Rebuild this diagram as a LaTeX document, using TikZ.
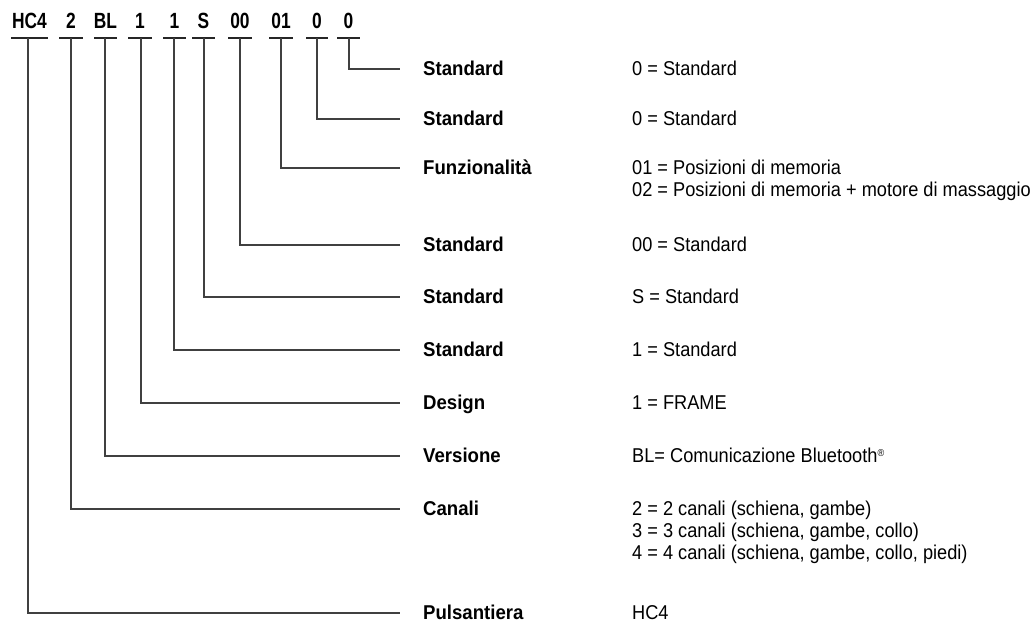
\documentclass[tikz,border=0pt]{standalone}
\usepackage{fontspec}
\setmainfont{Liberation Sans}
\newfontfamily\hdrfont[FakeStretch=0.79]{Liberation Sans}
\newfontfamily\labfont[FakeStretch=0.93]{Liberation Sans}
\newfontfamily\valfont[FakeStretch=0.91]{Liberation Sans}
\begin{document}
\begin{tikzpicture}[x=1pt,y=-1pt,
  bar/.style={line width=2.8pt, draw=black!85},
  conn/.style={line width=1.4pt, draw=black!75},
  hdr/.style={font=\hdrfont\bfseries\fontsize{22}{22}\selectfont, anchor=base, inner sep=0pt},
  lab/.style={font=\labfont\bfseries\fontsize{20}{22}\selectfont, anchor=base west, inner sep=0pt},
  val/.style={font=\valfont\fontsize{20}{22}\selectfont, anchor=base west, inner sep=0pt}]
\useasboundingbox (0,0) rectangle (1033,625);

% header codes
\node[hdr] (h1) at (29.5,28) {HC4};
\node[hdr] (h2) at (71,28) {2};
\node[hdr] (h3) at (105.5,28) {BL};
\node[hdr] (h4) at (140,28) {1};
\node[hdr] (h5) at (174.5,28) {1};
\node[hdr] (h6) at (203.5,28) {S};
\node[hdr] (h7) at (240,28) {00};
\node[hdr] (h8) at (281,28) {01};
\node[hdr] (h9) at (317,28) {0};
\node[hdr] (h10) at (348.5,28) {0};

% bars
\draw[bar] (11,38) -- (48,38);
\draw[bar] (59,38) -- (83,38);
\draw[bar] (94,38) -- (117,38);
\draw[bar] (128,38) -- (152,38);
\draw[bar] (163,38) -- (186,38);
\draw[bar] (192,38) -- (215,38);
\draw[bar] (228,38) -- (252,38);
\draw[bar] (269,38) -- (293,38);
\draw[bar] (306,38) -- (328,38);
\draw[bar] (337,38) -- (360,38);

% connector start points
\coordinate (s1) at (28,38);
\coordinate (s2) at (71,38);
\coordinate (s3) at (105,38);
\coordinate (s4) at (141,38);
\coordinate (s5) at (174,38);
\coordinate (s6) at (204,38);
\coordinate (s7) at (240,38);
\coordinate (s8) at (281,38);
\coordinate (s9) at (317,38);
\coordinate (s10) at (349,38);

% connector end points
\coordinate (e10) at (400,69);
\coordinate (e9) at (400,119);
\coordinate (e8) at (400,168);
\coordinate (e7) at (400,245);
\coordinate (e6) at (400,297);
\coordinate (e5) at (400,350);
\coordinate (e4) at (400,403);
\coordinate (e3) at (400,456);
\coordinate (e2) at (400,509);
\coordinate (e1) at (400,613);

\foreach \i in {1,...,10} { \draw[conn] (s\i) |- (e\i); }

% labels
\node[lab] (l10) at (423,75) {Standard};
\node[lab] (l9) at (423,125) {Standard};
\node[lab] (l8) at (423,174) {Funzionalità};
\node[lab] (l7) at (423,251) {Standard};
\node[lab] (l6) at (423,303) {Standard};
\node[lab] (l5) at (423,356) {Standard};
\node[lab] (l4) at (423,409) {Design};
\node[lab] (l3) at (423,462) {Versione};
\node[lab] (l2) at (423,515) {Canali};
\node[lab] (l1) at (423,619) {Pulsantiera};

% values
\node[val] (v10) at (632,75) {0 = Standard};
\node[val] (v9) at (632,125) {0 = Standard};
\node[val] (v8a) at (632,174) {01 = Posizioni di memoria};
\node[val] (v8b) at (632,196) {02 = Posizioni di memoria + motore di massaggio};
\node[val] (v7) at (632,251) {00 = Standard};
\node[val] (v6) at (632,303) {S = Standard};
\node[val] (v5) at (632,356) {1 = Standard};
\node[val] (v4) at (632,409) {1 = FRAME};
\node[val] (v3) at (632,462) {BL= Comunicazione Bluetooth\raisebox{0.55ex}{\fontsize{10}{10}\selectfont ®}};
\node[val] (v2a) at (632,515) {2 = 2 canali (schiena, gambe)};
\node[val] (v2b) at (632,537) {3 = 3 canali (schiena, gambe, collo)};
\node[val] (v2c) at (632,559) {4 = 4 canali (schiena, gambe, collo, piedi)};
\node[val] (v1) at (632,619) {HC4};
\end{tikzpicture}
\end{document}
